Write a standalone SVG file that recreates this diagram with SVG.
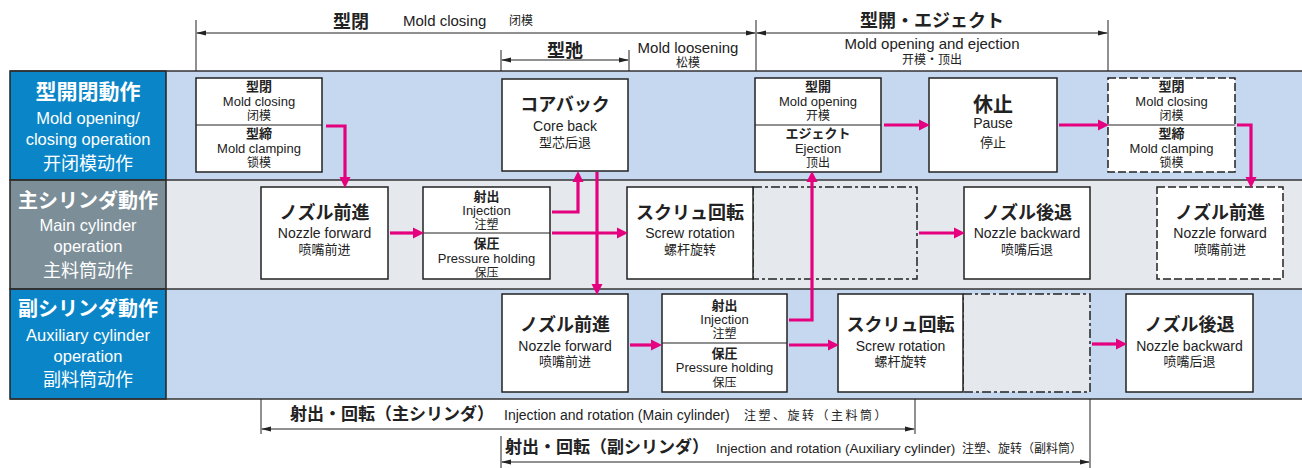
<svg xmlns="http://www.w3.org/2000/svg" width="1302" height="468" viewBox="0 0 1302 468">
<defs>
<marker id="pk" markerUnits="userSpaceOnUse" markerWidth="12" markerHeight="12" refX="2" refY="6" orient="auto">
<path d="M0,0.5 L11,6 L0,11.5 z" fill="#e4007f"/>
</marker>
<marker id="bk" markerUnits="userSpaceOnUse" markerWidth="10" markerHeight="6" refX="9" refY="3" orient="auto-start-reverse">
<path d="M0,0.5 L10,3 L0,5.5 z" fill="#222"/>
</marker>
</defs>
<style>
.jp{font-family:"Noto Sans CJK JP","Noto Sans CJK SC",sans-serif;}
.cn{font-family:"Noto Sans CJK SC","Noto Sans CJK JP",sans-serif;}
.en{font-family:"Liberation Sans",Arial,sans-serif;}
.b{font-weight:bold;}
.c{text-anchor:middle;}
.w{fill:#fff;}
.k{fill:#222;}
.box{fill:#fff;stroke:#222;stroke-width:1.5;}
.dbox{fill:#fff;stroke:#222;stroke-width:1.5;stroke-dasharray:8 3;}
.dgray{fill:#e5e9ed;stroke:#222;stroke-width:1.5;stroke-dasharray:9 3 3 3;}
.div{stroke:#222;stroke-width:1.2;}
.con{fill:none;stroke:#e4007f;stroke-width:3.2;marker-end:url(#pk);}
.dim{fill:none;stroke:#222;stroke-width:1;}
.arr{fill:none;stroke:#222;stroke-width:1;marker-start:url(#bk);marker-end:url(#bk);}
.t18{font-size:18px;}
.st{font-size:13px;}
.se{font-size:13px;}
.sc{font-size:12px;}
.ne{font-size:14px;}
.nc{font-size:13px;}
.t12{font-size:12px;}
</style>
<rect width="1302" height="468" fill="#fff"/>

<!-- bands -->
<g id="bands">
<rect x="166" y="71" width="1136" height="109" fill="#c6d8ef"/>
<rect x="166" y="180" width="1136" height="109" fill="#e5e9ed"/>
<rect x="166" y="289" width="1136" height="110" fill="#c6d8ef"/>
<rect x="10" y="71" width="156" height="109" fill="#0a86c8" stroke="#222" stroke-width="1.5"/>
<rect x="10" y="180" width="156" height="109" fill="#7c8e98" stroke="#222" stroke-width="1.5"/>
<rect x="10" y="289" width="156" height="110" fill="#0a86c8" stroke="#222" stroke-width="1.5"/>
<line x1="10" y1="71" x2="1302" y2="71" stroke="#333" stroke-width="1.5"/>
<line x1="10" y1="180" x2="1302" y2="180" stroke="#333" stroke-width="1.5"/>
<line x1="10" y1="289" x2="1302" y2="289" stroke="#333" stroke-width="1.5"/>
<line x1="10" y1="399" x2="1302" y2="399" stroke="#333" stroke-width="1.5"/>
</g>

<!-- row labels -->
<g id="label-row1">
<text x="88" y="99" class="jp b c w" font-size="21">型開閉動作</text>
<text x="88" y="124" class="en c w" font-size="16.5">Mold opening/</text>
<text x="88" y="145" class="en c w" font-size="16.5">closing operation</text>
<text x="88" y="170" class="cn c w" font-size="18">开闭模动作</text>
</g>
<g id="label-row2">
<text x="88" y="208" class="jp b c w" font-size="20">主シリンダ動作</text>
<text x="88" y="231" class="en c w" font-size="16.5">Main cylinder</text>
<text x="88" y="252" class="en c w" font-size="16.5">operation</text>
<text x="88" y="277" class="cn c w" font-size="18">主料筒动作</text>
</g>
<g id="label-row3">
<text x="88" y="316" class="jp b c w" font-size="20">副シリンダ動作</text>
<text x="88" y="341" class="en c w" font-size="16.5">Auxiliary cylinder</text>
<text x="88" y="362" class="en c w" font-size="16.5">operation</text>
<text x="88" y="386" class="cn c w" font-size="18">副料筒动作</text>
</g>

<!-- top dimension lines -->
<g id="top-dims">
<line x1="196" y1="20" x2="196" y2="71" class="dim"/>
<line x1="756" y1="20" x2="756" y2="71" class="dim"/>
<line x1="1108" y1="20" x2="1108" y2="71" class="dim"/>
<line x1="501" y1="50" x2="501" y2="71" class="dim"/>
<line x1="629" y1="50" x2="629" y2="71" class="dim"/>
<line x1="197" y1="33" x2="755" y2="33" class="arr"/>
<line x1="757" y1="33" x2="1107" y2="33" class="arr"/>
<line x1="502" y1="60" x2="628" y2="60" class="arr"/>
<text x="351" y="28" class="jp b c k t18">型閉</text>
<text x="403" y="26" class="en k" font-size="15">Mold closing</text>
<text x="509" y="25" class="cn k t12">闭模</text>
<text x="565" y="57" class="jp b c k t18">型弛</text>
<text x="688" y="53" class="en c k" font-size="15">Mold loosening</text>
<text x="688" y="67" class="cn c k t12">松模</text>
<text x="932" y="27" class="jp b c k t18">型開・エジェクト</text>
<text x="932" y="49" class="en c k" font-size="15">Mold opening and ejection</text>
<text x="932" y="64" class="cn c k t12">开模·顶出</text>
</g>

<!-- bottom dimension lines -->
<g id="bottom-dims">
<line x1="261" y1="399" x2="261" y2="434" class="dim"/>
<line x1="915" y1="399" x2="915" y2="434" class="dim"/>
<line x1="501" y1="436" x2="501" y2="468" class="dim"/>
<line x1="1090" y1="399" x2="1090" y2="468" class="dim"/>
<line x1="262" y1="429" x2="914" y2="429" class="arr"/>
<line x1="502" y1="462" x2="1089" y2="462" class="arr"/>
<text x="290" y="420" class="jp b k" font-size="17">射出・回転（主シリンダ）</text>
<text x="504" y="420" class="en k" font-size="14">Injection and rotation (Main cylinder)</text>
<text x="744" y="420" class="cn k t12" letter-spacing="2.5">注塑、旋转（主料筒）</text>
<text x="505" y="453" class="jp b k" font-size="17">射出・回転（副シリンダ）</text>
<text x="716" y="453" class="en k" font-size="13.5">Injection and rotation (Auxiliary cylinder)</text>
<text x="962" y="453" class="cn k t12">注塑、旋转（副料筒）</text>
</g>

<!-- row 1 nodes -->
<g id="n-mold-closing">
<rect x="196" y="78" width="126" height="94" class="box"/>
<line x1="196" y1="125" x2="322" y2="125" class="div"/>
<text x="259" y="91" class="jp b c k st">型閉</text>
<text x="259" y="106" class="en c k se">Mold closing</text>
<text x="259" y="120" class="cn c k sc">闭模</text>
<text x="259" y="138" class="jp b c k st">型締</text>
<text x="259" y="153" class="en c k se">Mold clamping</text>
<text x="259" y="166.5" class="cn c k sc">锁模</text>
</g>
<g id="n-core-back">
<rect x="502" y="79" width="126" height="92" class="box"/>
<text x="565" y="111" class="jp b c k t18">コアバック</text>
<text x="565" y="131" class="en c k ne">Core back</text>
<text x="565" y="147" class="cn c k nc">型芯后退</text>
</g>
<g id="n-mold-opening">
<rect x="755" y="78" width="126" height="94" class="box"/>
<line x1="755" y1="125" x2="881" y2="125" class="div"/>
<text x="818" y="91" class="jp b c k st">型開</text>
<text x="818" y="106" class="en c k se">Mold opening</text>
<text x="818" y="120" class="cn c k sc">开模</text>
<text x="818" y="138" class="jp b c k st">エジェクト</text>
<text x="818" y="153" class="en c k se">Ejection</text>
<text x="818" y="166.5" class="cn c k sc">顶出</text>
</g>
<g id="n-pause">
<rect x="929" y="78" width="128" height="94" class="box"/>
<text x="993" y="112" class="jp b c k" font-size="20">休止</text>
<text x="993" y="128" class="en c k ne">Pause</text>
<text x="993" y="147" class="cn c k nc">停止</text>
</g>
<g id="n-mold-closing-2">
<rect x="1108" y="78" width="127" height="94" class="dbox"/>
<line x1="1108" y1="125" x2="1235" y2="125" class="div"/>
<text x="1171.5" y="91" class="jp b c k st">型閉</text>
<text x="1171.5" y="106" class="en c k se">Mold closing</text>
<text x="1171.5" y="120" class="cn c k sc">闭模</text>
<text x="1171.5" y="138" class="jp b c k st">型締</text>
<text x="1171.5" y="153" class="en c k se">Mold clamping</text>
<text x="1171.5" y="166.5" class="cn c k sc">锁模</text>
</g>

<!-- row 2 nodes -->
<g id="n-main-nozzle-forward">
<rect x="261" y="187" width="127" height="92" class="box"/>
<text x="324.5" y="219" class="jp b c k t18">ノズル前進</text>
<text x="324.5" y="238" class="en c k ne">Nozzle forward</text>
<text x="324.5" y="254" class="cn c k nc">喷嘴前进</text>
</g>
<g id="n-main-injection">
<rect x="423" y="187" width="127" height="92" class="box"/>
<line x1="423" y1="233" x2="550" y2="233" class="div"/>
<text x="486.5" y="200.5" class="jp b c k st">射出</text>
<text x="486.5" y="215" class="en c k se">Injection</text>
<text x="486.5" y="229" class="cn c k sc">注塑</text>
<text x="486.5" y="248" class="jp b c k st">保圧</text>
<text x="486.5" y="263" class="en c k se">Pressure holding</text>
<text x="486.5" y="276.5" class="cn c k sc">保压</text>
</g>
<g id="n-main-screw-ext">
<rect x="753" y="187" width="164" height="92" class="dgray"/>
</g>
<g id="n-main-screw">
<rect x="627" y="187" width="126" height="92" class="box"/>
<text x="690" y="219" class="jp b c k t18">スクリュ回転</text>
<text x="690" y="238" class="en c k ne">Screw rotation</text>
<text x="690" y="254" class="cn c k nc">螺杆旋转</text>
</g>
<g id="n-main-nozzle-backward">
<rect x="964" y="187" width="126" height="92" class="box"/>
<text x="1027" y="219" class="jp b c k t18">ノズル後退</text>
<text x="1027" y="238" class="en c k ne">Nozzle backward</text>
<text x="1027" y="254" class="cn c k nc">喷嘴后退</text>
</g>
<g id="n-main-nozzle-forward-2">
<rect x="1157" y="187" width="126" height="92" class="dbox"/>
<text x="1220" y="219" class="jp b c k t18">ノズル前進</text>
<text x="1220" y="238" class="en c k ne">Nozzle forward</text>
<text x="1220" y="254" class="cn c k nc">喷嘴前进</text>
</g>

<!-- row 3 nodes -->
<g id="n-aux-nozzle-forward">
<rect x="502" y="294" width="126" height="98" class="box"/>
<text x="565" y="331" class="jp b c k t18">ノズル前進</text>
<text x="565" y="351" class="en c k ne">Nozzle forward</text>
<text x="565" y="366" class="cn c k nc">喷嘴前进</text>
</g>
<g id="n-aux-injection">
<rect x="662" y="294" width="125" height="98" class="box"/>
<line x1="662" y1="343" x2="787" y2="343" class="div"/>
<text x="724.5" y="309.5" class="jp b c k st">射出</text>
<text x="724.5" y="323.5" class="en c k se">Injection</text>
<text x="724.5" y="338" class="cn c k sc">注塑</text>
<text x="724.5" y="358" class="jp b c k st">保圧</text>
<text x="724.5" y="372" class="en c k se">Pressure holding</text>
<text x="724.5" y="386.5" class="cn c k sc">保压</text>
</g>
<g id="n-aux-screw-ext">
<rect x="963" y="294" width="127" height="98" class="dgray"/>
</g>
<g id="n-aux-screw">
<rect x="838" y="294" width="125" height="98" class="box"/>
<text x="900.5" y="331" class="jp b c k t18">スクリュ回転</text>
<text x="900.5" y="351" class="en c k ne">Screw rotation</text>
<text x="900.5" y="366" class="cn c k nc">螺杆旋转</text>
</g>
<g id="n-aux-nozzle-backward">
<rect x="1126" y="294" width="127" height="98" class="box"/>
<text x="1189.5" y="331" class="jp b c k t18">ノズル後退</text>
<text x="1189.5" y="351" class="en c k ne">Nozzle backward</text>
<text x="1189.5" y="366" class="cn c k nc">喷嘴后退</text>
</g>

<!-- connectors -->
<g id="connectors">
<path d="M326,126 H345 V179" class="con"/>
<path d="M390,233 H415" class="con"/>
<path d="M552,212 H578 V180" class="con"/>
<path d="M597,172 V286" class="con"/>
<path d="M552,233 H619" class="con"/>
<path d="M919,233 H956" class="con"/>
<path d="M630,345 H653" class="con"/>
<path d="M789,320 H812 V180" class="con"/>
<path d="M789,345 H830" class="con"/>
<path d="M1092,344 H1118" class="con"/>
<path d="M884,125 H921" class="con"/>
<path d="M1059,125 H1100" class="con"/>
<path d="M1237,125 H1251 V179" class="con"/>
</g>
</svg>
